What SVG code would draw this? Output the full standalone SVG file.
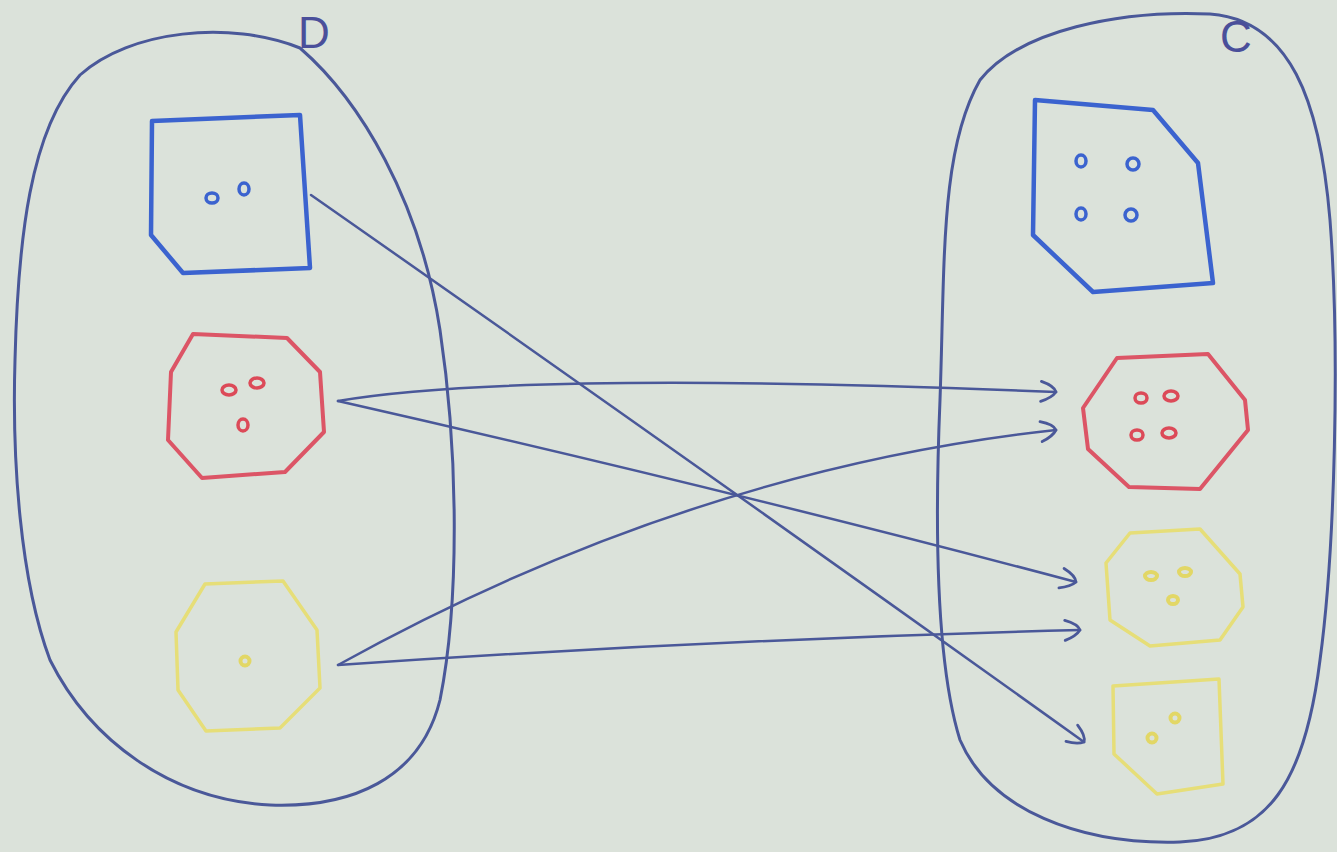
<svg xmlns="http://www.w3.org/2000/svg" width="1337" height="852" viewBox="0 0 1337 852">
<defs>
<style>
.blob{fill:none;stroke:#4a5899;stroke-width:3;stroke-linecap:round}
.conn{fill:none;stroke:#4a5899;stroke-width:2.5;stroke-linecap:round}
.blue{fill:none;stroke:#3b63cf;stroke-width:4.5;stroke-linejoin:round}
.red{fill:none;stroke:#dc5566;stroke-width:4;stroke-linejoin:round}
.yel{fill:none;stroke:#e6de78;stroke-width:3.5;stroke-linejoin:round}
.hb{fill:none;stroke:#3b63cf;stroke-width:3.5}
.hr{fill:none;stroke:#dc4a58;stroke-width:3.5}
.hy{fill:none;stroke:#e2d766;stroke-width:4}
.lbl{font-family:"Liberation Sans",sans-serif;font-size:44px;fill:#4a4f9a}
</style>
<marker id="arr" viewBox="0 0 20 24" refX="18" refY="12" markerWidth="20" markerHeight="24" markerUnits="userSpaceOnUse" orient="auto">
<path d="M3,2 Q16,6 18,12 Q14,18 3,22" fill="none" stroke="#4a5899" stroke-width="2.8" stroke-linecap="round"/>
</marker>
</defs>
<rect width="1337" height="852" fill="#dbe2da"/>
<g id="set-D">
<path class="blob" d="M300 48 C360 100,420 200,440 330 C458 450,460 600,440 700 C420 780,350 808,270 805 C170 800,90 740,50 660 C20 580,12 460,15 360 C18 240,30 130,80 75 C130 30,230 20,300 48 Z"/>
<text class="lbl" x="298" y="48">D</text>
</g>
<g id="set-C">
<path class="blob" d="M1210 14 C1290 20,1320 100,1330 220 C1340 350,1335 550,1320 660 C1305 780,1270 838,1180 842 C1080 845,990 810,960 740 C935 660,935 520,940 400 C945 260,940 150,980 80 C1020 30,1120 10,1210 14 Z"/>
<text class="lbl" x="1220" y="52">C</text>
</g>
<g id="d-blue">
<polygon class="blue" points="152,121 300,115 310,268 183,273 151,235"/>
<ellipse class="hb" cx="212" cy="198" rx="6" ry="5"/>
<ellipse class="hb" cx="244" cy="189" rx="5" ry="6"/>
</g>
<g id="d-red">
<polygon class="red" points="193,334 287,338 320,372 324,432 285,472 202,478 168,440 171,372"/>
<ellipse class="hr" cx="229" cy="390" rx="7" ry="5"/>
<ellipse class="hr" cx="257" cy="383" rx="7" ry="5"/>
<ellipse class="hr" cx="243" cy="425" rx="5" ry="6"/>
</g>
<g id="d-yellow">
<polygon class="yel" points="205,584 283,581 317,630 320,688 280,728 206,731 178,690 176,632"/>
<circle class="hy" cx="245" cy="661" r="4.5"/>
</g>
<g id="c-blue">
<polygon class="blue" points="1035,100 1153,110 1198,163 1213,283 1093,292 1033,235"/>
<ellipse class="hb" cx="1081" cy="161" rx="5" ry="6"/>
<ellipse class="hb" cx="1133" cy="164" rx="6" ry="6"/>
<ellipse class="hb" cx="1081" cy="214" rx="5" ry="6"/>
<ellipse class="hb" cx="1131" cy="215" rx="6" ry="6"/>
</g>
<g id="c-red">
<polygon class="red" points="1117,358 1208,354 1245,400 1248,430 1200,489 1129,487 1088,449 1083,408"/>
<ellipse class="hr" cx="1141" cy="398" rx="6" ry="5"/>
<ellipse class="hr" cx="1171" cy="396" rx="7" ry="5"/>
<ellipse class="hr" cx="1137" cy="435" rx="6" ry="5"/>
<ellipse class="hr" cx="1169" cy="433" rx="7" ry="5"/>
</g>
<g id="c-yellow-1">
<polygon class="yel" points="1130,533 1200,529 1240,574 1243,607 1220,640 1150,646 1110,620 1106,563"/>
<ellipse class="hy" cx="1151" cy="576" rx="6" ry="4"/>
<ellipse class="hy" cx="1185" cy="572" rx="6" ry="4"/>
<ellipse class="hy" cx="1173" cy="600" rx="5" ry="4"/>
</g>
<g id="c-yellow-2">
<polygon class="yel" points="1113,686 1219,679 1223,784 1157,794 1114,754"/>
<circle class="hy" cx="1175" cy="718" r="4.5"/>
<circle class="hy" cx="1152" cy="738" r="4.5"/>
</g>
<g id="connectors">
<path class="conn" marker-end="url(#arr)" d="M311 195 Q690 460 1084 742"/>
<path class="conn" marker-end="url(#arr)" d="M338 401 Q520 370 1056 392"/>
<path class="conn" marker-end="url(#arr)" d="M338 401 Q730 490 1076 582"/>
<path class="conn" marker-end="url(#arr)" d="M338 665 Q690 470 1056 430"/>
<path class="conn" marker-end="url(#arr)" d="M338 665 Q700 640 1080 630"/>
</g>
</svg>
